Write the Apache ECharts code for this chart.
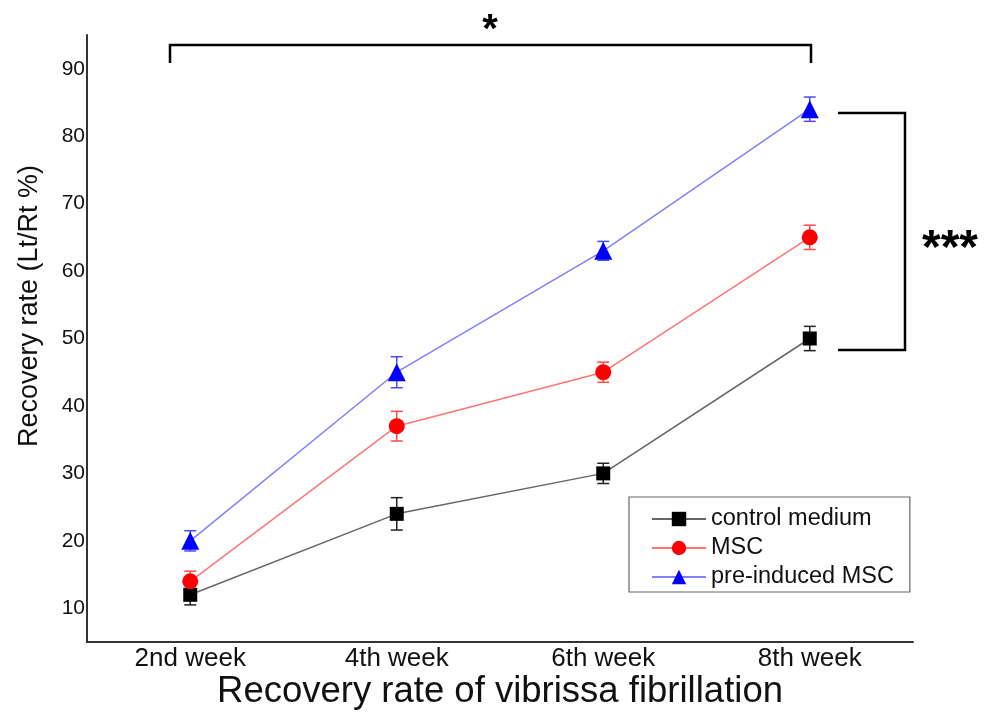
<!DOCTYPE html>
<html>
<head>
<meta charset="utf-8">
<script src="https://cdn.jsdelivr.net/npm/echarts@6/dist/echarts.min.js"></script>
<style>
html,body{margin:0;padding:0;background:#fff;}
#chart{width:990px;height:713px;}
</style>
</head>
<body>
<div id="chart"></div>
<script>
const categories = ['2nd week', '4th week', '6th week', '8th week'];
const seriesNames = ['control medium', 'MSC', 'pre-induced MSC'];
const controlMean = [12, 24, 30, 50];
const controlErr = [1.5, 2.4, 1.5, 1.8];
const mscMean = [14, 37, 45, 65];
const mscErr = [1.5, 2.2, 1.5, 1.8];
const preMean = [20, 45, 63, 84];
const preErr = [1.5, 2.3, 1.4, 1.8];
const yTickLabels = [10, 20, 30, 40, 50, 60, 70, 80, 90];

const FONT = "'Liberation Sans', Arial, sans-serif";

const chart = echarts.init(document.getElementById('chart'));

function errSeries(name, mean, err, color) {
  return {
    type: 'custom',
    name: name + ' err',
    z: 1,
    silent: true,
    data: mean.map((m, i) => [i, m, err[i]]),
    renderItem: function (params, api) {
      const i = api.value(0), m = api.value(1), e = api.value(2);
      const top = api.coord([i, m + e]);
      const bot = api.coord([i, m - e]);
      const hw = 6;
      const st = { stroke: color, lineWidth: 1.5 };
      return {
        type: 'group',
        children: [
          { type: 'line', shape: { x1: top[0], y1: top[1], x2: bot[0], y2: bot[1] }, style: st },
          { type: 'line', shape: { x1: top[0] - hw, y1: top[1], x2: top[0] + hw, y2: top[1] }, style: st },
          { type: 'line', shape: { x1: bot[0] - hw, y1: bot[1], x2: bot[0] + hw, y2: bot[1] }, style: st }
        ]
      };
    }
  };
}

function lineSeries(name, mean, symbol, size, markColor, lineColor) {
  return {
    type: 'line',
    name: name,
    z: 3,
    data: mean,
    symbol: symbol,
    symbolSize: size,
    showAllSymbol: true,
    itemStyle: { color: markColor, borderWidth: 0 },
    lineStyle: { color: lineColor, width: 1.5 },
    emphasis: { disabled: true },
    animation: false
  };
}

const option = {
  animation: false,
  backgroundColor: '#fff',
  grid: { left: 87, right: 77, top: 35, bottom: 71, containLabel: false },
  xAxis: {
    type: 'category',
    data: categories,
    boundaryGap: true,
    axisLine: { lineStyle: { color: '#333', width: 2 } },
    axisTick: { show: false },
    axisLabel: { color: '#111', fontSize: 26, fontFamily: FONT, margin: 4 },
    splitLine: { show: false }
  },
  yAxis: {
    type: 'value',
    min: 5,
    max: 95,
    axisLine: { show: true, lineStyle: { color: '#333', width: 2 } },
    axisTick: { show: false },
    axisLabel: { color: '#111', fontSize: 21, fontFamily: FONT, margin: 2, customValues: yTickLabels },
    splitLine: { show: false }
  },
  legend: {
    orient: 'vertical',
    left: 629,
    top: 497,
    data: seriesNames,
    backgroundColor: '#fff',
    borderColor: '#666',
    borderWidth: 1.2,
    padding: [10, 16, 3, 22],
    itemWidth: 54,
    itemHeight: 18,
    itemGap: 5,
    textStyle: { color: '#111', fontSize: 23.5, fontFamily: FONT },
    selectedMode: false
  },
  series: [
    errSeries(seriesNames[0], controlMean, controlErr, '#222'),
    errSeries(seriesNames[1], mscMean, mscErr, '#ff4a4a'),
    errSeries(seriesNames[2], preMean, preErr, '#4a4aff'),
    lineSeries(seriesNames[0], controlMean, 'rect', 14, '#000', '#666'),
    lineSeries(seriesNames[1], mscMean, 'circle', 16, '#ff0000', '#ff7474'),
    lineSeries(seriesNames[2], preMean, 'triangle', 18, '#0000ff', '#8080ff')
  ],
  graphic: [
    { type: 'text', x: 500, y: 692, style: { text: 'Recovery rate of vibrissa fibrillation', font: '36.5px ' + FONT, fill: '#111', textAlign: 'center', textVerticalAlign: 'middle' } },
    { type: 'text', rotation: Math.PI / 2, x: 30, y: 306, style: { text: 'Recovery rate (Lt/Rt %)', font: '27px ' + FONT, fill: '#111', textAlign: 'center', textVerticalAlign: 'middle' } },
    { type: 'polyline', shape: { points: [[170, 63], [170, 45], [811, 45], [811, 63]] }, style: { stroke: '#000', lineWidth: 2.5, fill: null } },
    { type: 'text', x: 490, y: 31, style: { text: '*', font: 'bold 40px ' + FONT, fill: '#000', textAlign: 'center', textVerticalAlign: 'middle' } },
    { type: 'polyline', shape: { points: [[838, 113], [905, 113], [905, 350], [838, 350]] }, style: { stroke: '#000', lineWidth: 2.5, fill: null } },
    { type: 'text', x: 950, y: 250, style: { text: '***', font: 'bold 48px ' + FONT, fill: '#000', textAlign: 'center', textVerticalAlign: 'middle' } }
  ]
};
chart.setOption(option);
</script>
</body>
</html>
